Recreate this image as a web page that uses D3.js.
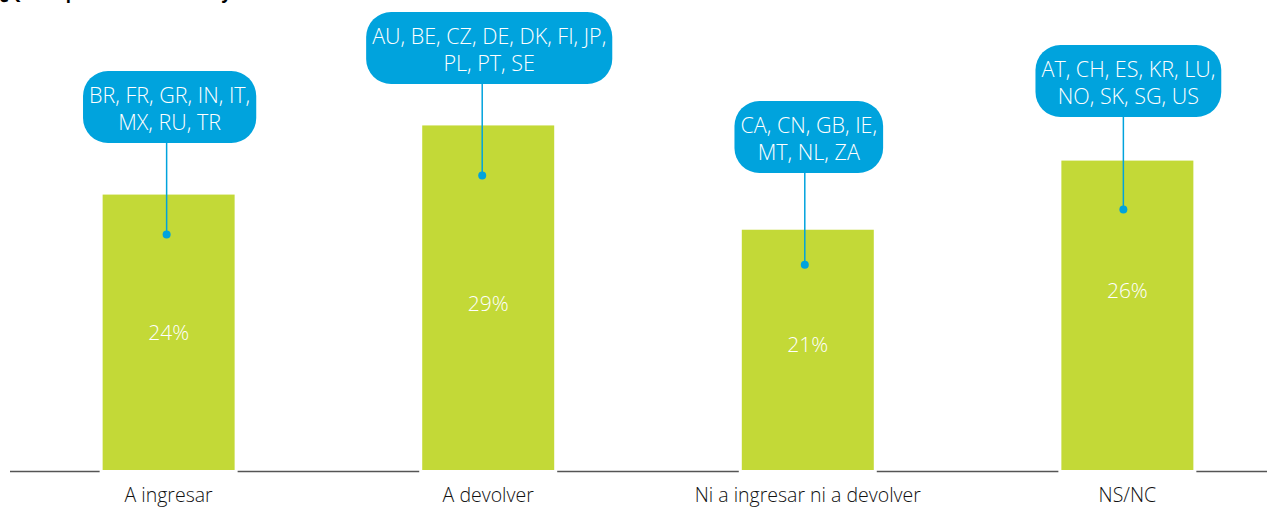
<!DOCTYPE html>
<html>
<head>
<meta charset="utf-8">
<script src="https://cdn.jsdelivr.net/npm/d3@7"></script>
<style>
  html, body { margin: 0; padding: 0; background: #fff; }
  svg { display: block; font-family: "Open Sans", "DejaVu Sans", sans-serif; }
</style>
</head>
<body>
<div id="chart"></div>
<script>
const title = '¿Qué esperan los contribuyentes de su declaración de la renta?';
const categories = ['A ingresar', 'A devolver', 'Ni a ingresar ni a devolver', 'NS/NC'];
const values = [23.5, 29.4, 20.5, 26.4];
const countryGroups = [
  ['BR, FR, GR, IN, IT,', 'MX, RU, TR'],
  ['AU, BE, CZ, DE, DK, FI, JP,', 'PL, PT, SE'],
  ['CA, CN, GB, IE,', 'MT, NL, ZA'],
  ['AT, CH, ES, KR, LU,', 'NO, SK, SG, US']
];

const width = 1277, height = 507;
const baseY = 470;
const green = '#c3d937', blue = '#00a3dd';

const svg = d3.select('#chart').append('svg')
  .attr('width', width)
  .attr('height', height);

// title is cut by the top edge in the original
svg.append('text')
  .attr('x', 0).attr('y', -1)
  .style('font-size', '17px').style('font-weight', 'bold')
  .attr('fill', '#000')
  .text(title);

const x = d3.scaleBand()
  .domain(categories)
  .range([9, 1287])
  .paddingInner(0.587)
  .paddingOuter(0.293);

const y = d3.scaleLinear()
  .domain([0, 40])
  .range([baseY, baseY - 40 * 11.72]);

// baseline, broken around each bar
const gap = 3;
const edges = [10];
categories.forEach(c => { edges.push(x(c) - gap, x(c) + x.bandwidth() + gap); });
edges.push(1267);
for (let i = 0; i < edges.length; i += 2) {
  svg.append('line')
    .attr('x1', edges[i]).attr('x2', edges[i + 1])
    .attr('y1', baseY + 1.5).attr('y2', baseY + 1.5)
    .attr('stroke', '#555').attr('stroke-width', 1.3);
}

svg.selectAll('rect.bar')
  .data(values)
  .enter().append('rect')
  .attr('class', 'bar')
  .attr('x', (d, i) => x(categories[i]))
  .attr('y', d => y(d))
  .attr('width', x.bandwidth())
  .attr('height', d => y(0) - y(d))
  .attr('fill', green);

// value labels sit at different depths inside the bars
const labelDrop = [138, 178, 115, 130];
svg.selectAll('text.val')
  .data(values)
  .enter().append('text')
  .attr('class', 'val')
  .attr('x', (d, i) => x(categories[i]) + x.bandwidth() / 2)
  .attr('y', (d, i) => y(d) + labelDrop[i])
  .attr('dy', '0.35em')
  .attr('text-anchor', 'middle')
  .attr('fill', '#fff')
  .style('font-size', '21px')
  .style('font-weight', 300)
  .text(d => Math.round(d) + '%');

svg.selectAll('text.cat')
  .data(categories)
  .enter().append('text')
  .attr('class', 'cat')
  .attr('x', d => x(d) + x.bandwidth() / 2)
  .attr('y', 502)
  .attr('text-anchor', 'middle')
  .attr('fill', '#111')
  .style('font-size', '19.5px')
  .style('font-weight', 300)
  .text(d => d);

// callouts: bubble top, dot offset below bar top, dot shift from bar centre
const bubbleTop = [71, 12, 101, 45];
const dotDrop = [40, 50, 35, 49];
const dotShift = [-2, -6, -3, -4];
const lineH = 27;

countryGroups.forEach((lines, i) => {
  const cx = x(categories[i]) + x.bandwidth() / 2;
  const g = svg.append('g');
  const box = g.append('rect');
  const texts = g.selectAll('text')
    .data(lines)
    .enter().append('text')
    .attr('x', cx + 1)
    .attr('y', (d, j) => bubbleTop[i] + 32 + j * lineH)
    .attr('text-anchor', 'middle')
    .attr('fill', '#fff')
    .style('font-size', '21.5px')
    .style('font-weight', 300)
    .text(d => d);
  let w = 0;
  texts.each(function () { w = Math.max(w, this.getComputedTextLength()); });
  const bw = w + 12, bh = 72;
  box.attr('x', cx + 1 - bw / 2).attr('y', bubbleTop[i])
    .attr('width', bw).attr('height', bh)
    .attr('rx', 25).attr('ry', 25)
    .attr('fill', blue);

  const dx = cx + dotShift[i];
  const dy = y(values[i]) + dotDrop[i];
  g.append('line')
    .attr('x1', dx).attr('x2', dx)
    .attr('y1', bubbleTop[i] + bh).attr('y2', dy)
    .attr('stroke', blue).attr('stroke-width', 1.5);
  g.append('circle')
    .attr('cx', dx).attr('cy', dy).attr('r', 4)
    .attr('fill', blue);
});
</script>
</body>
</html>
